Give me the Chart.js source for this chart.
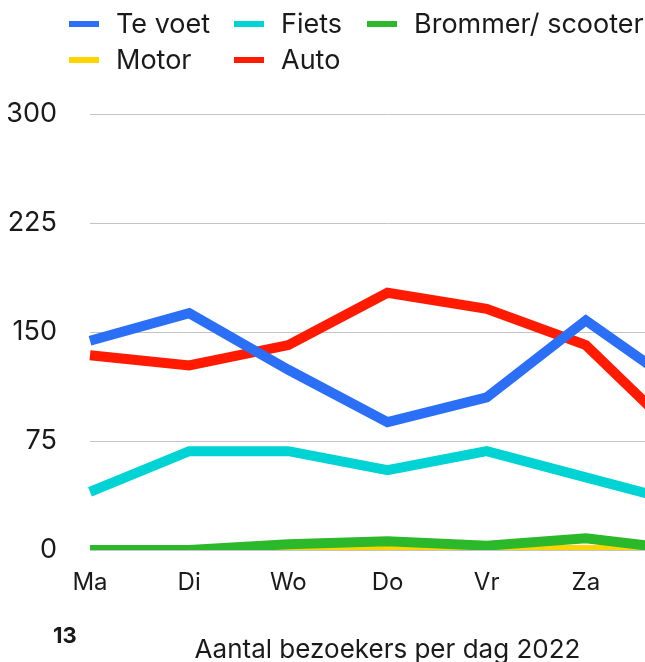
<!DOCTYPE html>
<html>
<head>
<meta charset="utf-8">
<script src="https://cdn.jsdelivr.net/npm/chart.js@4/dist/chart.umd.min.js"></script>
<style>
  html, body { margin: 0; padding: 0; background: #fff; overflow: hidden; width: 645px; height: 662px; }
  body { position: relative; font-family: "Inter", "Roboto", sans-serif; color: #1a1a1a; }
  #legend {
    position: absolute; left: 69px; top: 6px;
    display: grid; grid-template-columns: 165px 133px auto; row-gap: 0;
    font-size: 27px; line-height: 36px;
  }
  #legend .item { display: flex; align-items: center; white-space: nowrap; }
  #legend .swatch { width: 30px; height: 6px; margin-right: 17px; }
  #pagenr { position: absolute; left: 53px; top: 624px; font-size: 22px; font-weight: 700; line-height: 22px; }
  #wrap { position: absolute; left: 0; top: 0; }
</style>
</head>
<body>
<div id="wrap"><canvas id="myChart" width="776" height="680"></canvas></div>
<div id="legend"></div>
<div id="pagenr">13</div>
<script>
// data
const days = ["Ma", "Di", "Wo", "Do", "Vr", "Za", "Zo"];
const teVoet = [144, 163, 124, 88, 105, 158, 110];
const fiets = [40, 68, 68, 55, 68, 50, 32];
const brommer = [0, 0, 4, 6, 3, 8, 0];
const motor = [0, 0, 0, 0, 0, 0, 0];
const auto = [134, 127, 141, 177, 166, 141, 75];
const yTicks = [0, 75, 150, 225, 300];

const seriesNames = ["Te voet", "Fiets", "Brommer/ scooter", "Motor", "Auto"];
const seriesColors = ["#2a6ff6", "#00d3d3", "#2bb92b", "#ffd500", "#ff1a00"];
const seriesData = [teVoet, fiets, brommer, motor, auto];

const textColor = "#1a1a1a";
const fontFamily = "Inter, Roboto, sans-serif";

// legend as html, the reference lines its columns up
const legendEl = document.getElementById("legend");
seriesNames.forEach((name, i) => {
  const item = document.createElement("div");
  item.className = "item";
  const sw = document.createElement("span");
  sw.className = "swatch";
  sw.style.background = seriesColors[i];
  item.appendChild(sw);
  item.appendChild(document.createTextNode(name));
  legendEl.appendChild(item);
});

const ctx = document.getElementById("myChart").getContext("2d");
new Chart(ctx, {
  type: "line",
  data: {
    labels: days,
    datasets: seriesNames.map((name, i) => ({
      label: name,
      data: seriesData[i],
      borderColor: seriesColors[i],
      backgroundColor: seriesColors[i],
      borderWidth: 10,
      borderJoinStyle: "miter",
      borderCapStyle: "butt",
      pointRadius: 0,
      tension: 0,
      fill: false,
    })),
  },
  options: {
    responsive: false,
    animation: false,
    layout: { padding: { left: 6, right: 91, top: 114, bottom: 14 } },
    plugins: {
      legend: { display: false },
      tooltip: { enabled: false },
    },
    scales: {
      x: {
        grid: { display: false, drawTicks: false },
        border: { display: false },
        ticks: {
          color: textColor,
          padding: 18,
          font: { family: fontFamily, size: 24 },
          maxRotation: 0,
        },
        title: {
          display: true,
          text: "Aantal bezoekers per dag 2022",
          color: textColor,
          font: { family: fontFamily, size: 26 },
          padding: { top: 20, bottom: 0 },
        },
      },
      y: {
        min: 0,
        max: 300,
        afterBuildTicks: (axis) => {
          axis.ticks = yTicks.map((v) => ({ value: v }));
        },
        afterFit: (axis) => {
          axis.width = 84; // keeps the plot starting at x=90
        },
        grid: { color: "#c4c4c4", lineWidth: 1, drawTicks: false },
        border: { display: false },
        ticks: {
          color: textColor,
          padding: 33,
          font: { family: fontFamily, size: 27 },
        },
      },
    },
  },
});
</script>
</body>
</html>
